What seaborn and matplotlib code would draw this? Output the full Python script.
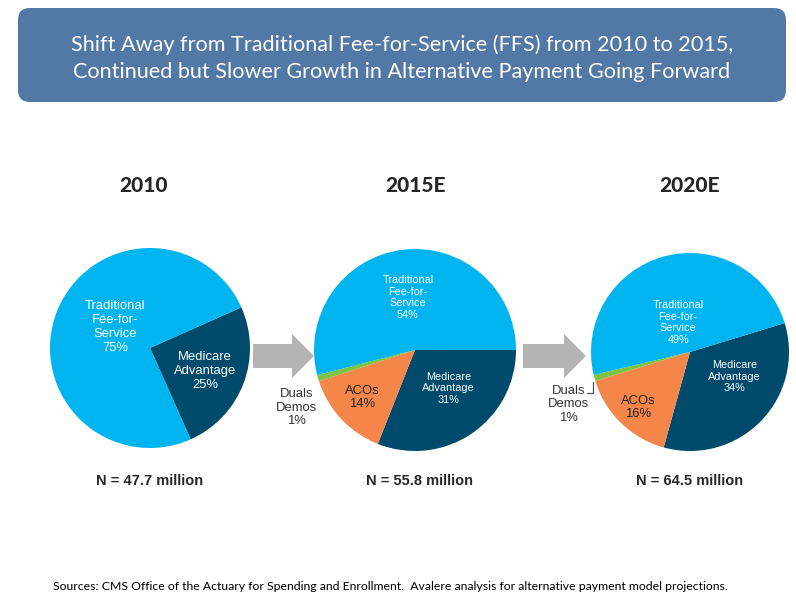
import matplotlib
matplotlib.use("Agg")
import matplotlib.pyplot as plt
from matplotlib.patches import FancyBboxPatch, FancyArrow
import seaborn as sns

sns.set_style("white")
plt.rcParams['font.family'] = ['Liberation Sans', 'DejaVu Sans']

# data
years = ["2010", "2015E", "2020E"]
totals = ["N = 47.7 million", "N = 55.8 million", "N = 64.5 million"]

seg_2010 = ["Medicare\nAdvantage", "Traditional\nFee-for-\nService"]
val_2010 = [25, 75]

seg_2015 = ["Medicare\nAdvantage", "ACOs", "Duals\nDemos", "Traditional\nFee-for-\nService"]
val_2015 = [31, 14, 1, 54]

seg_2020 = ["Medicare\nAdvantage", "ACOs", "Duals\nDemos", "Traditional\nFee-for-\nService"]
val_2020 = [34, 16, 1, 49]

colors = {"Medicare\nAdvantage": "#004A6C",
          "ACOs": "#F5864A",
          "Duals\nDemos": "#7DC242",
          "Traditional\nFee-for-\nService": "#00B4F0"}

W, H = 796, 597
fig = plt.figure(figsize=(W / 100, H / 100), dpi=100)

# overlay axes in pixel units for the decorations
bg = fig.add_axes([0, 0, 1, 1])
bg.set_xlim(0, W)
bg.set_ylim(H, 0)
bg.axis("off")

bg.add_patch(FancyBboxPatch((30, 20), 744, 70, boxstyle="round,pad=12",
                            fc="#5279A6", ec="none"))
bg.text(402, 58, "Shift Away from Traditional Fee-for-Service (FFS) from 2010 to 2015,\n"
        "Continued but Slower Growth in Alternative Payment Going Forward",
        ha="center", va="center", color="white", fontsize=15.6, family="Lato",
        linespacing=1.45)

bg.text(390, 587, "Sources: CMS Office of the Actuary for Spending and Enrollment.  "
        "Avalere analysis for alternative payment model projections.",
        ha="center", va="center", fontsize=8.85, family="Lato", color="black")

# gray block arrows between the pies
for x0, x1 in [(253, 314), (523, 586)]:
    bg.add_patch(FancyArrow(x0, 356, x1 - x0, 0, width=24, head_width=44,
                            head_length=22, length_includes_head=True,
                            fc="#B4B4B4", ec="none"))

# pies: (center x, center y, radius) in pixels
spots = [(150, 348, 100), (415, 350, 101), (690, 352, 99)]
series = [(seg_2010, val_2010, 24), (seg_2015, val_2015, 0), (seg_2020, val_2020, 17)]

# label positions inside each pie (pie units)
label_pos = [
    {"Traditional\nFee-for-\nService": (-0.35, 0.21, 9.4, "white"),
     "Medicare\nAdvantage": (0.55, -0.23, 9.4, "white")},
    {"Traditional\nFee-for-\nService": (-0.07, 0.52, 7.8, "white"),
     "Medicare\nAdvantage": (0.33, -0.38, 7.8, "white"),
     "ACOs": (-0.52, -0.47, 9.4, "#222222"),
     "Duals\nDemos": (-1.17, -0.57, 9.4, "#333333")},
    {"Traditional\nFee-for-\nService": (-0.12, 0.30, 7.8, "white"),
     "Medicare\nAdvantage": (0.45, -0.25, 7.8, "white"),
     "ACOs": (-0.52, -0.56, 9.4, "#222222"),
     "Duals\nDemos": (-1.23, -0.53, 9.4, "#333333")},
]

for i, ((cx, cy, r), (segs, vals, start)) in enumerate(zip(spots, series)):
    ax = fig.add_axes([(cx - r) / W, (H - cy - r) / H, 2 * r / W, 2 * r / H])
    ax.patch.set_alpha(0)
    ax.pie(vals, colors=[colors[s] for s in segs], startangle=start,
           counterclock=False, wedgeprops=dict(linewidth=0))
    ax.set_xlim(-1, 1)
    ax.set_ylim(-1, 1)
    ax.set_aspect("equal")
    ax.axis("off")
    for s, v in zip(segs, vals):
        lx, ly, fs, c = label_pos[i][s]
        ax.text(lx, ly, f"{s}\n{v}%", ha="center", va="center", fontsize=fs,
                color=c, linespacing=1.2, clip_on=False)
    if i == 2:
        ax.plot([-0.98, -0.98, -1.04], [-0.30, -0.41, -0.41], color="#555555",
                lw=0.9, clip_on=False)

    bg.text(cx - 6 if i == 0 else cx, 186, years[i], ha="center", va="center",
            fontsize=15, family="Lato", weight="black")
    bg.text(cx + (5 if i == 1 else 0), 481, totals[i], ha="center", va="center",
            fontsize=10.5, weight="bold")

fig.savefig("out.png", dpi=100)
